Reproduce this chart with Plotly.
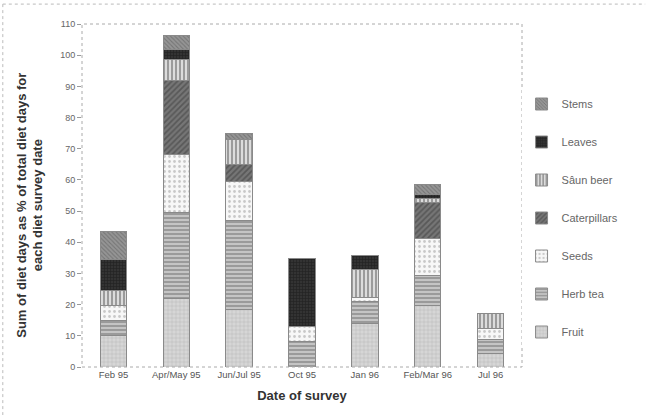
import plotly.graph_objects as go

categories = ["Feb 95", "Apr/May 95", "Jun/Jul 95", "Oct 95", "Jan 96", "Feb/Mar 96", "Jul 96"]

fruit = [10.0, 22.0, 18.3, 0.0, 13.8, 19.7, 4.4]
herb_tea = [5.0, 27.6, 28.8, 8.1, 7.1, 9.5, 4.5]
seeds = [4.6, 18.6, 12.3, 5.0, 1.5, 12.1, 3.5]
caterpillars = [0.0, 23.8, 5.4, 0.0, 0.0, 11.5, 0.0]
saun_beer = [5.0, 6.7, 8.3, 0.0, 8.9, 1.3, 4.6]
leaves = [10.0, 3.0, 0.0, 21.8, 4.4, 1.1, 0.0]
stems = [9.0, 4.5, 1.8, 0.0, 0.0, 3.4, 0.0]

y_ticks = [0, 10, 20, 30, 40, 50, 60, 70, 80, 90, 100, 110]
y_title = "<b>Sum of diet days as % of total diet days for<br>each diet survey date</b>"
x_title = "<b>Date of survey</b>"

series = [
    ("Fruit", fruit, "#d6d6d6", "#a8a8a8", "+", 4, 0.3),
    ("Herb tea", herb_tea, "#c4c4c4", "#5a5a5a", "-", 4, 0.4),
    ("Seeds", seeds, "#f7f7f7", "#9a9a9a", ".", 5, 0.25),
    ("Caterpillars", caterpillars, "#767676", "#3a3a3a", "/", 4, 0.45),
    ("Sâun beer", saun_beer, "#dcdcdc", "#4a4a4a", "|", 4, 0.45),
    ("Leaves", leaves, "#333333", "#111111", "+", 3, 0.4),
    ("Stems", stems, "#959595", "#555555", "\\", 3, 0.35),
]

fig = go.Figure()
n = len(series)
for i, (name, vals, bg, fg, shp, sz, sol) in enumerate(series):
    fig.add_trace(go.Bar(
        x=categories, y=vals, name=name, legendgroup=name,
        legendrank=1000 + (n - i),
        width=0.42,
        marker=dict(color=bg, line=dict(color="#8a8a8a", width=1),
                    pattern=dict(shape=shp, fgcolor=fg, size=sz, solidity=sol)),
    ))

font_family = "Arial, Liberation Sans, sans-serif"
fig.update_layout(
    barmode="stack",
    width=648, height=415,
    margin=dict(l=82, r=126, t=24, b=48, autoexpand=False),
    paper_bgcolor="white", plot_bgcolor="white",
    font=dict(family=font_family, color="#555555", size=10),
    legend=dict(x=0.999, y=0.809, xanchor="left", yanchor="top",
                traceorder="grouped", tracegroupgap=19,
                font=dict(size=11, color="#666666"), itemwidth=30),
    xaxis=dict(range=[-0.5, 6.5], showgrid=False, ticks="", zeroline=False,
               automargin=False,
               tickfont=dict(size=9.5, color="#555555"),
               title=dict(text=x_title, font=dict(size=13, color="#333333"), standoff=12)),
    yaxis=dict(range=[0, 110], tickvals=y_ticks, showgrid=False, zeroline=False,
               automargin=False,
               ticks="outside", ticklen=4, tickcolor="#999999",
               tickfont=dict(size=9, color="#666666")),
    annotations=[
        dict(text=y_title, xref="paper", yref="paper", x=-0.119, y=0.472,
             xanchor="center", yanchor="middle", textangle=-90, showarrow=False,
             font=dict(size=13, color="#333333")),
    ],
    shapes=[
        dict(type="rect", xref="paper", yref="paper", x0=0, x1=1, y0=0, y1=1,
             line=dict(color="#aaaaaa", width=1, dash="dot"), layer="above"),
        dict(type="line", xref="paper", yref="paper", x0=-0.18, x1=1.28, y0=1.058, y1=1.058,
             line=dict(color="#bbbbbb", width=1, dash="dot")),
        dict(type="line", xref="paper", yref="paper", x0=-0.18, x1=-0.18, y0=1.058, y1=-0.14,
             line=dict(color="#bbbbbb", width=1, dash="dot")),
    ],
)

fig.write_html("out.html", config={"displayModeBar": False},
               post_script="document.body.style.margin='0px';document.body.style.overflow='hidden';")
